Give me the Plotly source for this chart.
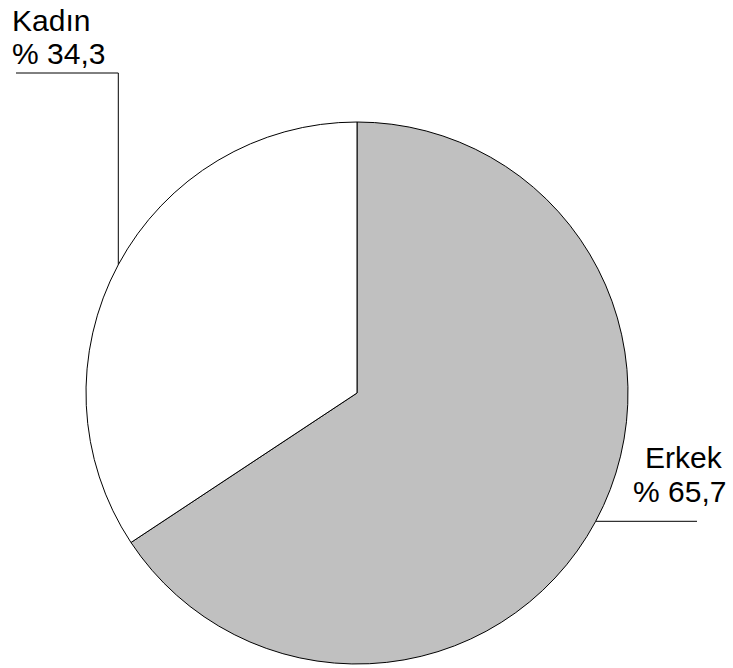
import math
import plotly.graph_objects as go

# Gender split
categories = ["Erkek", "Kadın"]
values = [65.7, 34.3]
value_labels = ["% 65,7", "% 34,3"]
colors = ["#C0C0C0", "#FFFFFF"]

W, H = 733, 668
CX, CY, R = 357, 393, 271  # pie centre and radius in pixels

fig = go.Figure(go.Pie(
    labels=categories,
    values=values,
    sort=False,
    direction="clockwise",
    rotation=0,
    textinfo="none",
    hoverinfo="label+percent",
    marker=dict(colors=colors, line=dict(color="#000000", width=1)),
    domain=dict(x=[(CX - R) / W, (CX + R) / W],
                y=[(H - CY - R) / H, (H - CY + R) / H]),
    showlegend=False,
))


def px(x):
    return x / W


def py(y):
    return 1 - y / H


def edge_point(idx):
    # point on the rim at the middle of slice idx (clockwise from 12 o'clock)
    total = sum(values)
    start = sum(values[:idx])
    mid = (start + values[idx] / 2) / total * 2 * math.pi
    return CX + R * math.sin(mid), CY - R * math.cos(mid)


line_style = dict(color="#000000", width=1)
shapes = []
annotations = []
font = dict(family="Liberation Sans, Arial, sans-serif", size=30, color="#000000")

# Erkek: horizontal leader to the right
ex, ey = edge_point(0)
shapes.append(dict(type="line", xref="paper", yref="paper",
                   x0=px(ex), y0=py(ey), x1=px(697), y1=py(ey), line=line_style))
annotations.append(dict(text=categories[0], x=px(725), y=py(457), xref="paper", yref="paper",
                        xanchor="right", yanchor="middle", showarrow=False, font=font))
annotations.append(dict(text=value_labels[0], x=px(728), y=py(491), xref="paper", yref="paper",
                        xanchor="right", yanchor="middle", showarrow=False, font=font))

# Kadın: vertical leader up, then horizontal to the left
kx, ky = edge_point(1)
shapes.append(dict(type="line", xref="paper", yref="paper",
                   x0=px(kx), y0=py(ky), x1=px(kx), y1=py(73), line=line_style))
shapes.append(dict(type="line", xref="paper", yref="paper",
                   x0=px(kx), y0=py(73), x1=px(16), y1=py(73), line=line_style))
annotations.append(dict(text=categories[1], x=px(10), y=py(20), xref="paper", yref="paper",
                        xanchor="left", yanchor="middle", showarrow=False, font=font))
annotations.append(dict(text=value_labels[1], x=px(10), y=py(53), xref="paper", yref="paper",
                        xanchor="left", yanchor="middle", showarrow=False, font=font))

fig.update_layout(
    width=W, height=H,
    margin=dict(l=0, r=0, t=0, b=0),
    paper_bgcolor="#FFFFFF",
    plot_bgcolor="#FFFFFF",
    shapes=shapes,
    annotations=annotations,
)

fig.write_html("out.html")
